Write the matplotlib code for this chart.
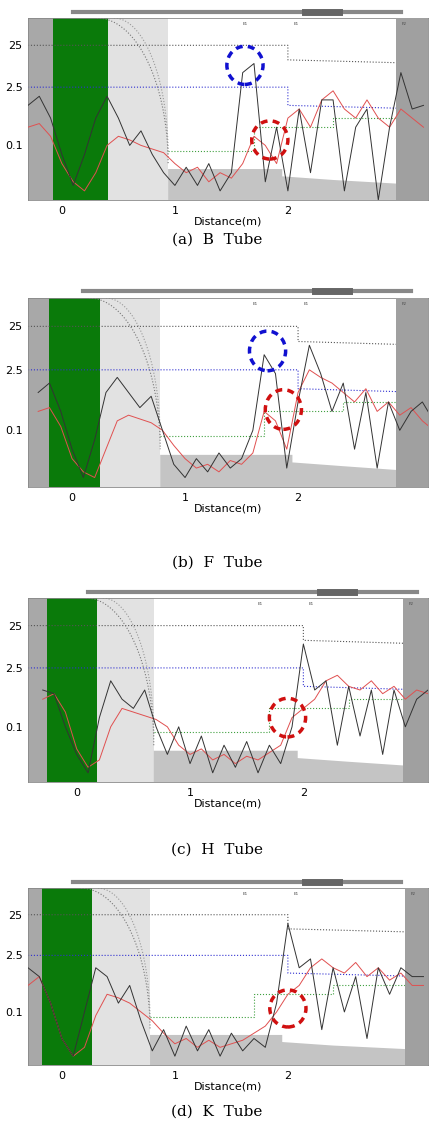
import numpy as np
import matplotlib.pyplot as plt
from matplotlib.patches import Ellipse, Polygon

# distance grid (m) shared by all panels
dist = [round(-0.3 + 0.1 * i, 1) for i in range(36)]

black_a = [52, 57, 45, 25, 8, 25, 45, 57, 45, 30, 38, 25, 15, 8, 18, 8, 20, 5, 15, 70,
           75, 10, 40, 5, 50, 15, 55, 55, 5, 40, 50, 0, 40, 70, 50, 52]
red_a = [40, 42, 35, 20, 10, 5, 15, 30, 35, 33, 30, 28, 26, 20, 15, 18, 10, 15, 12, 20,
         35, 30, 20, 45, 50, 40, 55, 60, 50, 45, 55, 45, 40, 50, 45, 40]
black_b = [50, 55, 40, 20, 5, 25, 50, 58, 50, 42, 48, 30, 12, 5, 15, 8, 18, 10, 15, 30,
           70, 60, 10, 45, 75, 60, 40, 55, 20, 50, 10, 45, 30, 40, 45, 35]
red_b = [40, 42, 32, 15, 8, 5, 20, 35, 38, 36, 34, 30, 22, 15, 10, 12, 8, 14, 12, 18,
         40, 35, 20, 50, 62, 58, 55, 50, 45, 52, 40, 45, 38, 42, 35, 30]
black_c = [50, 48, 30, 15, 5, 35, 55, 45, 40, 50, 30, 15, 30, 10, 25, 5, 20, 8, 22, 5,
           20, 10, 30, 75, 50, 55, 20, 52, 25, 50, 15, 50, 30, 45, 50, 50]
red_c = [45, 48, 38, 18, 8, 12, 30, 40, 38, 36, 34, 30, 20, 15, 18, 12, 15, 10, 14, 12,
         16, 20, 35, 40, 45, 55, 58, 52, 50, 55, 48, 52, 45, 50, 48, 45]
black_d = [55, 50, 35, 15, 5, 30, 55, 50, 35, 45, 25, 8, 20, 5, 22, 8, 20, 5, 18, 8,
           15, 10, 35, 80, 55, 60, 20, 55, 30, 50, 15, 55, 40, 55, 50, 50]
red_d = [45, 50, 35, 15, 5, 10, 28, 40, 38, 35, 30, 25, 18, 12, 15, 10, 14, 10, 12, 14,
         18, 22, 30, 40, 45, 55, 60, 55, 52, 58, 50, 55, 48, 52, 45, 45]

tick_vals = [85, 62, 30]
tick_labels = ["25", "2.5", "0.1"]
x_ticks = [0, 1, 2]

panels = [
    # caption, black, red, xlim, (dark end, green end, light end, right dark start), circles, axes rect, caption y
    ("(a)  B  Tube", black_a, red_a, (-0.30, 3.24), (-0.08, 0.41, 0.94, 2.96),
     [("#1010d0", 1.62, 74), ("#d01010", 1.84, 33)], [0.0645, 0.8258, 0.9217, 0.1585], 0.791),
    ("(b)  F  Tube", black_b, red_b, (-0.39, 3.15), (-0.20, 0.25, 0.78, 2.87),
     [("#1010d0", 1.73, 72), ("#d01010", 1.87, 41)], [0.0645, 0.5758, 0.9217, 0.1646], 0.510),
    ("(c)  H  Tube", black_c, red_c, (-0.43, 3.10), (-0.26, 0.18, 0.68, 2.88),
     [("#d01010", 1.86, 35)], [0.0645, 0.3188, 0.9217, 0.1603], 0.260),
    ("(d)  K  Tube", black_d, red_d, (-0.30, 3.24), (-0.18, 0.27, 0.78, 3.04),
     [("#d01010", 2.00, 32)], [0.0645, 0.0723, 0.9217, 0.1540], 0.032),
]

fig = plt.figure(figsize=(4.34, 11.48), dpi=100)
for cap, blk, red, xl, (d0, g1, l1, r0), circles, rect, cy in panels:
    ax = fig.add_axes(rect)
    ax.set_xlim(*xl)
    ax.set_ylim(0, 100)
    ax.axvspan(xl[0], d0, color="#a8a8a8", lw=0)
    ax.axvspan(d0, g1, color="#0a7a0a", lw=0)
    ax.axvspan(g1, l1, color="#e2e2e2", lw=0)
    ax.axvspan(r0, xl[1], color="#a0a0a0", lw=0, zorder=3)
    floor = Polygon([(l1, 0), (l1, 17), (1.95, 17), (1.95, 13), (2.4, 11),
                     (r0, 9), (r0, 0)], closed=True, color="#c4c4c4", lw=0)
    ax.add_patch(floor)
    # dotted reference lines
    ax.plot([xl[0], 2.0, 2.0, xl[1]], [85, 85, 77, 75], ls=":", color="#555555", lw=0.8)
    ax.plot([xl[0], 2.0, 2.0, xl[1]], [62, 62, 52, 50], ls=":", color="#3030d0", lw=0.8)
    ax.plot([l1, 1.7, 1.7, 2.4, 2.4, xl[1]], [27, 27, 40, 40, 45, 45], ls=":", color="#40a040", lw=0.8)
    t = np.linspace(0, np.pi / 2, 50)
    ax.plot(g1 - 0.1 + (l1 - g1 + 0.1) * np.sin(t), 100 - 80 * (1 - np.cos(t)), ls=":", color="#777777", lw=0.8)
    ax.plot(g1 + 0.05 + (l1 - g1 - 0.05) * np.sin(t), 100 - 75 * (1 - np.cos(t)), ls=":", color="#999999", lw=0.8)
    ax.plot(dist, red, color="#e05050", lw=0.7, zorder=4)
    ax.plot(dist, blk, color="#333333", lw=0.7, zorder=5)
    for col, cx, cyv in circles:
        ax.add_patch(Ellipse((cx, cyv), 0.32, 21, fill=False, ls=(0, (2, 1.5)),
                             ec=col, lw=2.5, zorder=6))
    ax.set_yticks(tick_vals)
    ax.set_yticklabels(tick_labels, fontsize=8)
    ax.set_xticks(x_ticks)
    ax.set_xticklabels([str(v) for v in x_ticks], fontsize=8)
    ax.tick_params(length=0, pad=4)
    ax.set_xlabel("Distance(m)", fontsize=8, labelpad=1)
    for s in ax.spines.values():
        s.set_color("#888888")
        s.set_linewidth(0.6)
    # top bar
    ax.plot([0.1, 3.0], [103.5, 103.5], color="#888888", lw=3, clip_on=False)
    ax.plot([2.15, 2.45], [103.5, 103.5], color="#666666", lw=5, clip_on=False)
    for lx, lab in [(1.6, "E1"), (2.05, "E1"), (r0 + 0.05, "F2")]:
        ax.text(lx, 98, lab, fontsize=3, color="#444444", va="top")
    fig.text(0.5, cy, cap, ha="center", va="center", fontsize=11, family="DejaVu Serif")

fig.savefig("out.png", dpi=100)
